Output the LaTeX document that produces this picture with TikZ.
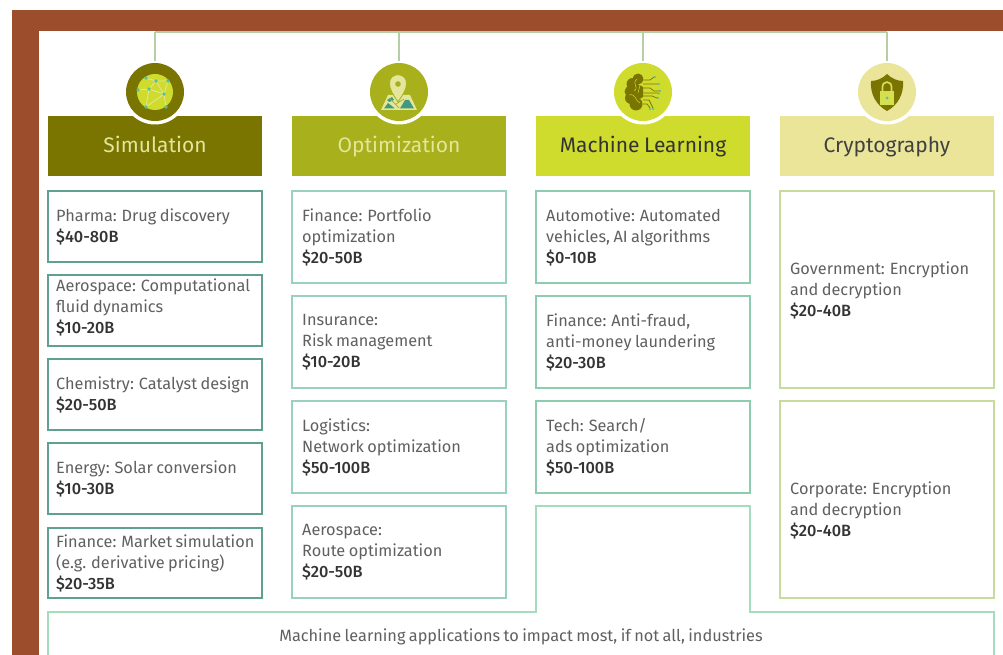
\documentclass[tikz,border=0pt]{standalone}
\usepackage{fontspec}
\setmainfont[BoldFont={Fira Sans Medium},WordSpace=0.8]{Fira Sans}
\definecolor{brownband}{HTML}{9C4D2C}
\definecolor{simc}{HTML}{7A7400}
\definecolor{optc}{HTML}{A8B01C}
\definecolor{mlc}{HTML}{CFDC2E}
\definecolor{cryc}{HTML}{EBE59A}
\definecolor{linkc}{HTML}{B5CFA5}
\definecolor{teal1}{HTML}{5FA090}
\definecolor{teal2}{HTML}{9AD0C0}
\definecolor{teal3}{HTML}{8CCDB0}
\definecolor{teal4}{HTML}{C5DC9A}
\definecolor{bottomc}{HTML}{A5DCBC}
\definecolor{dot}{HTML}{50C0A0}
\definecolor{bodyc}{HTML}{606060}
\definecolor{pricec}{HTML}{333333}
\definecolor{palec}{HTML}{E3E69B}
\tikzset{
  x=1pt,y=-1pt,
  hdr/.style={minimum width=214pt,minimum height=60pt,inner sep=0pt,outer sep=0pt,text height=15pt,text depth=1pt,font=\fontsize{21}{24}\selectfont},
  iconbg/.style={circle,minimum size=58pt,inner sep=0pt,outer sep=0pt},
  ring/.style={circle,fill=white,minimum size=65pt,inner sep=0pt},
  link/.style={draw=linkc,line width=1.2pt},
  appbox/.style={line width=1.3pt,minimum width=214pt,inner sep=0pt,outer sep=0pt,fill=white},
  apptext/.style={anchor=west,align=left,inner sep=0pt,text=bodyc,font=\fontsize{16.3}{21}\selectfont},
}
\newcommand{\price}[1]{\textcolor{pricec}{\textbf{#1}}}
% name, left x, top y, bottom y, colour, inset, vertical shift, text
\newcommand{\appbx}[8]{%
  \node[appbox,draw=#5,minimum height={#4-#3},anchor=north west] (#1) at (#2,#3) {};
  \node[apptext] (#1t) at ([xshift=#6pt,yshift=#7pt]#1.west) {#8};
}
\begin{document}
\begin{tikzpicture}
\useasboundingbox (0,0) rectangle (1003,655);
\fill[white] (0,0) rectangle (1003,655);
\fill[brownband] (12,10) rectangle (1003,655);
\fill[white] (39,31) rectangle (1003,655);

% connectors
\coordinate (busL) at (155,32);
\coordinate (busM) at (399,32);
\coordinate (busN) at (643,32);
\coordinate (busR) at (887,32);
\draw[link] (busL) -- (busR);

% headers
\node[hdr,fill=simc,text=palec,anchor=north west] (hsim) at (48,116) {Simulation};
\node[hdr,fill=optc,text=palec,anchor=north west] (hopt) at (292,116) {Optimization};
\node[hdr,fill=mlc,text=black!80,anchor=north west] (hml) at (536,116) {Machine Learning};
\node[hdr,fill=cryc,text=black!75,anchor=north west] (hcry) at (780,116) {Cryptography};

% icon circles
\node[ring] at (155,92) {};
\node[ring] at (399,92) {};
\node[ring] at (643,92) {};
\node[ring] at (887,92) {};
\node[iconbg,fill=simc] (csim) at (155,92) {};
\node[iconbg,fill=optc] (copt) at (399,92) {};
\node[iconbg,fill=mlc] (cml) at (643,92) {};
\node[iconbg,fill=cryc] (ccry) at (887,92) {};
\draw[link] (busL) -- ([yshift=2pt]csim.north);
\draw[link] (busM) -- ([yshift=2pt]copt.north);
\draw[link] (busN) -- ([yshift=2pt]cml.north);
\draw[link] (busR) -- ([yshift=2pt]ccry.north);

% globe icon
\fill[mlc] (155,92) circle (18);
\draw[palec,line width=0.8pt] (146,78)--(156,81)--(168,81) (138,90)--(149,89)--(164,94)--(166,107)
  (156,81)--(149,89)--(146,107) (168,81)--(164,94)--(146,107) (156,81)--(164,94);
\foreach \p in {(146,78),(156,81),(168,81),(149,89),(138,90),(164,94),(146,107),(166,107)}
  \fill[dot] \p circle (1.8);

% map pin icon
\fill[palec] (381,110)--(388,95)--(410,95)--(417,110)--cycle;
\fill[dot!80!black] (384,108.5)--(388,103)--(395,108.5)--cycle (400,108.5)--(405,100)--(409,100)--(414,108.5)--cycle (387,100)--(392,97)--(394,100)--(389,102)--cycle;
\draw[optc,line width=0.7pt] (389,98)--(399,108) (404,99)--(396,104);
\fill[palec,draw=optc,line width=0.8pt] (398,102) .. controls (393,94) and (389.5,90) .. (389.5,83)
  .. controls (389.5,72) and (406.5,72) .. (406.5,83)
  .. controls (406.5,90) and (403,94) .. (398,102) -- cycle;
\fill[optc] (398,84) circle (2.8);

% brain icon
\begin{scope}
\clip (615,70) rectangle (643,112);
\foreach \p/\r in {(638,79)/5.5,(632.5,84)/6,(630,91.5)/5.5,(631,98)/6,(636,104)/6.5,(638,92)/7}
  \fill[simc] \p circle (\r);
\end{scope}
\draw[mlc!85!simc,line width=0.6pt] (637,79) .. controls (631,84) and (640,87) .. (634,91) (629,95) .. controls (636,93) and (635,101) .. (640,103) (640,85) -- (638,93);
\draw[simc,line width=0.7pt] (643,80)--(650,80)--(654,77) (643,84)--(652,84)--(658,84) (643,88)--(650,88)--(654,91)--(660,91)
  (643,93)--(658,93) (643,96)--(652,96)--(657,98) (643,100)--(649,100)--(653,108) (643,104)--(647,104)--(650,108);
\foreach \p in {(655,77),(659,84),(660,91),(659,93.5),(658,98),(653,109),(650,109)}
  \fill[dot] \p circle (1.2);

% shield icon
\fill[simc] (871,81) .. controls (877,81) and (883,78) .. (887,74)
  .. controls (891,78) and (897,81) .. (903,81)
  .. controls (904,94) and (898,105) .. (887,111)
  .. controls (876,105) and (870,94) .. (871,81) -- cycle;
\draw[mlc!70!palec,line width=1.7pt] (882.5,92) -- (882.5,87) .. controls (882.5,80.5) and (891.5,80.5) .. (891.5,87) -- (891.5,92);
\fill[mlc!70!palec] (880,91) rectangle (894,105);
\fill[dot] (887,98) circle (1.5);

% Simulation column
\appbx{a1}{48}{191}{262}{teal1}{8}{-0.5}{Pharma: Drug discovery\\\price{\$40-80B}}
\appbx{a2}{48}{275}{346}{teal1}{8}{3.5}{Aerospace: Computational\\fluid dynamics\\\price{\$10-20B}}
\appbx{a3}{48}{359}{430}{teal1}{8}{-0.5}{Chemistry: Catalyst design\\\price{\$20-50B}}
\appbx{a4}{48}{443}{514}{teal1}{8}{-0.5}{Energy: Solar conversion\\\price{\$10-30B}}
\appbx{a5}{48}{528}{598}{teal1}{8}{-0.5}{Finance: Market simulation\\(e.g. derivative pricing)\\\price{\$20-35B}}
% Optimization column
\appbx{b1}{292}{191}{283}{teal2}{10}{-0.5}{Finance: Portfolio\\optimization\\\price{\$20-50B}}
\appbx{b2}{292}{296}{388}{teal2}{10}{-0.5}{Insurance:\\Risk management\\\price{\$10-20B}}
\appbx{b3}{292}{401}{493}{teal2}{10}{-0.5}{Logistics:\\Network optimization\\\price{\$50-100B}}
\appbx{b4}{292}{506}{598}{teal2}{10}{-0.5}{Aerospace:\\Route optimization\\\price{\$20-50B}}
% Machine learning column
\appbx{c1}{536}{191}{283}{teal3}{10}{-0.5}{Automotive: Automated\\vehicles, AI algorithms\\\price{\$0-10B}}
\appbx{c2}{536}{296}{388}{teal3}{10}{-0.5}{Finance: Anti-fraud,\\anti-money laundering\\\price{\$20-30B}}
\appbx{c3}{536}{401}{493}{teal3}{10}{-0.5}{Tech: Search/\\ads optimization\\\price{\$50-100B}}
% Cryptography column
\appbx{d1}{780}{191}{388}{teal4}{10}{-0.5}{Government: Encryption\\and decryption\\\price{\$20-40B}}
\appbx{d2}{780}{401}{598}{teal4}{10}{-11}{Corporate: Encryption\\and decryption\\\price{\$20-40B}}

% bottom box
\draw[bottomc,line width=1.3pt] (48,656)--(48,612)--(536,612)--(536,506)--(750,506)--(750,612)--(994,612)--(994,656);
\draw[bottomc!70,line width=1pt] (48,655)--(994,655);
\node[apptext,anchor=center] (mltext) at (521,637) {Machine learning applications to impact most, if not all, industries};
\end{tikzpicture}
\end{document}
